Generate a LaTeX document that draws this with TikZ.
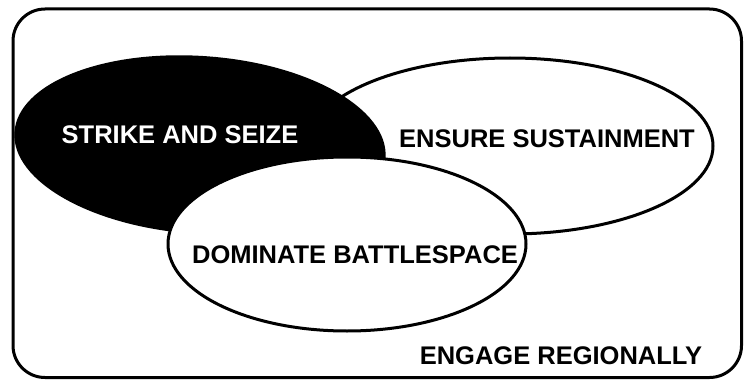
\documentclass[tikz,border=0pt]{standalone}
\usepackage{fontspec}
\setmainfont{Liberation Sans}
\usepackage{tikz}
\usetikzlibrary{positioning}

\tikzset{lbl/.style={font=\fontsize{25.5}{30}\selectfont\bfseries, inner sep=0pt}}
\tikzset{ring/.style={line width=3pt}}

\begin{document}
\begin{tikzpicture}[x=1pt, y=1pt]
\useasboundingbox (0, 0) rectangle (744, 381);
\draw[ring, rounded corners=32pt] (13, 3.5) rectangle (741.5, 372);
\draw[ring, fill=white] (510, 235) ellipse [x radius=203, y radius=88];
\fill[rotate around={-4:(200, 236)}] (200, 236) ellipse [x radius=186, y radius=89];
\draw[ring, fill=white] (347, 137) ellipse [x radius=179, y radius=87];
\node[lbl, text=white] (strike) at (180, 246) {STRIKE AND SEIZE};
\node[lbl] (ensure) at (547, 242) {ENSURE SUSTAINMENT};
\node[lbl] (dominate) at (355, 126) {DOMINATE BATTLESPACE};
\node[lbl] (engage) at (561, 25) {ENGAGE REGIONALLY};
\end{tikzpicture}
\end{document}
